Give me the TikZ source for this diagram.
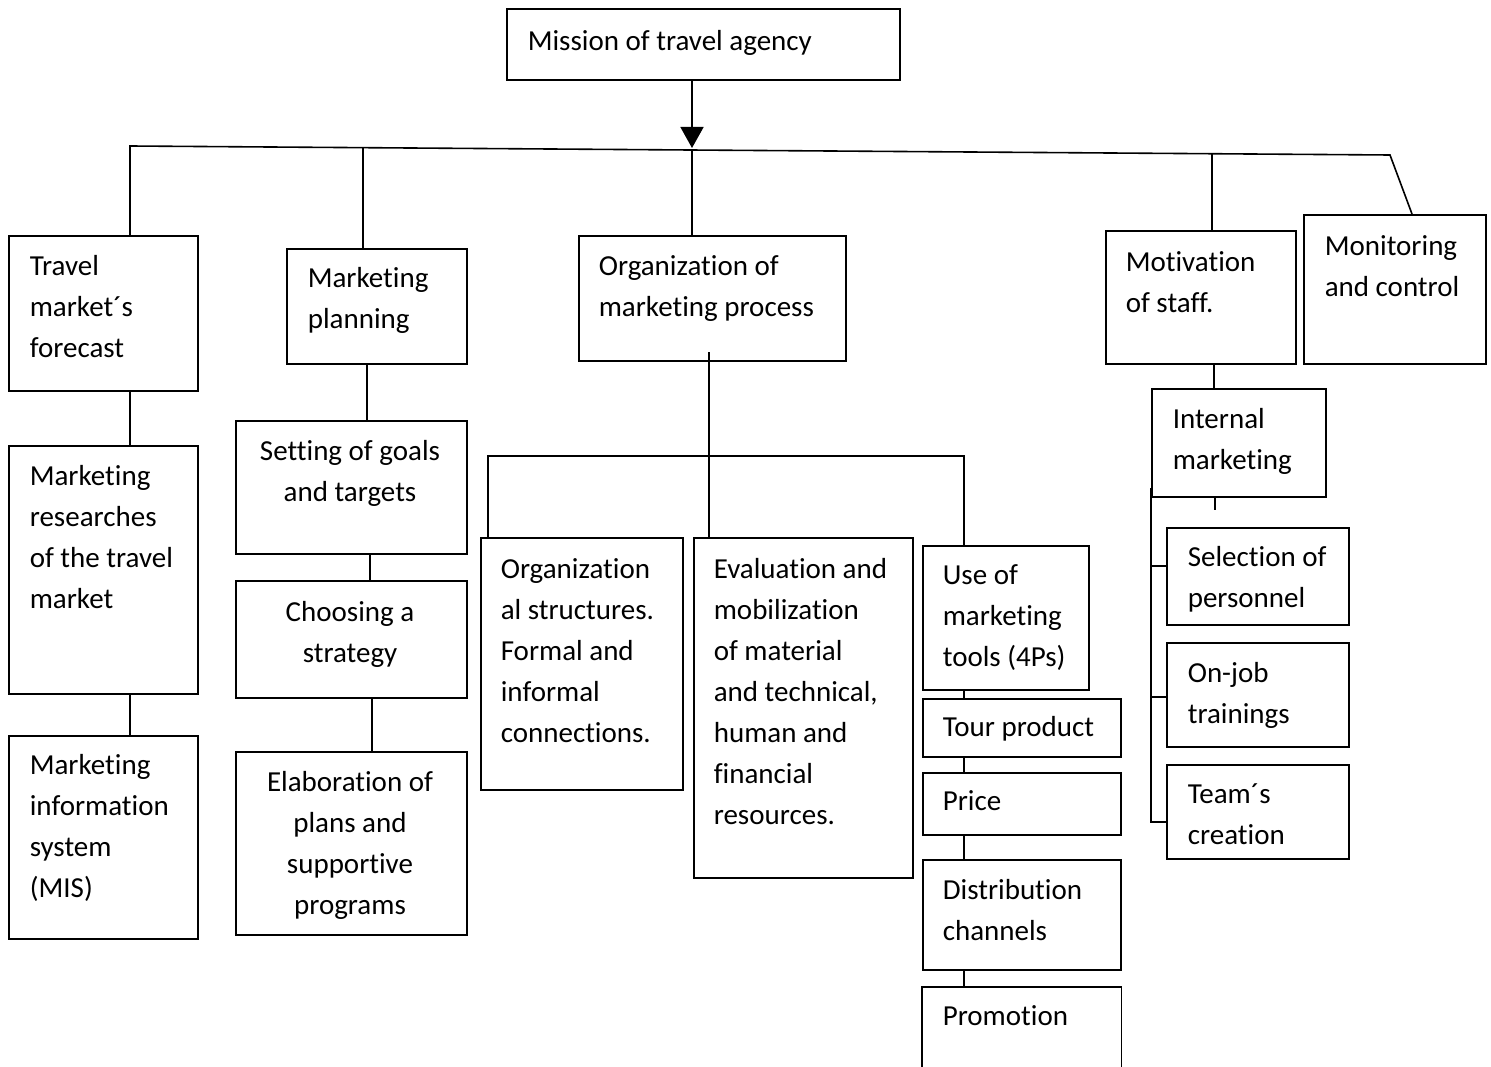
\documentclass[tikz,border=0pt]{standalone}
\usepackage{fontspec}
\setmainfont{Carlito}[Ligatures=NoCommon]
\usetikzlibrary{arrows.meta}
\begin{document}
\begin{tikzpicture}[x=1pt,y=-1pt, line width=1.6pt,
  box/.style={draw, anchor=north west, inner sep=0pt, line width=1.6pt},
  txt/.style={anchor=north west, align=left, inner sep=0pt, yshift=18.7pt, execute at begin node=\strut, font=\fontsize{29}{41}\selectfont},
  ctxt/.style={anchor=north, align=center, inner sep=0pt, yshift=18.7pt, execute at begin node=\strut, font=\fontsize{29}{41}\selectfont},
  one/.style={yshift=10pt},
  link/.style={draw, line width=1.6pt}]
\useasboundingbox[fill=white] (0,0) rectangle (1491,1067);

% boxes
\node[box, minimum width=393pt, minimum height=71pt] (mission) at (506,8) {};
\node[box, minimum width=189pt, minimum height=155pt] (travel) at (8,235) {};
\node[box, minimum width=189pt, minimum height=248pt] (research) at (8,445) {};
\node[box, minimum width=189pt, minimum height=203pt] (mis) at (8,735) {};
\node[box, minimum width=180pt, minimum height=115pt] (planning) at (286,248) {};
\node[box, minimum width=231pt, minimum height=133pt] (goals) at (235,420) {};
\node[box, minimum width=231pt, minimum height=117pt] (strategy) at (235,580) {};
\node[box, minimum width=231pt, minimum height=183pt] (elab) at (235,751) {};
\node[box, minimum width=267pt, minimum height=125pt] (org) at (578,235) {};
\node[box, minimum width=202pt, minimum height=252pt] (orgstruct) at (480,537) {};
\node[box, minimum width=219pt, minimum height=340pt] (eval) at (693,537) {};
\node[box, minimum width=166pt, minimum height=144pt] (tools) at (922,545) {};
\node[box, minimum width=198pt, minimum height=58pt] (tour) at (922,698) {};
\node[box, minimum width=198pt, minimum height=62pt] (price) at (922,772) {};
\node[box, minimum width=198pt, minimum height=110pt] (distr) at (922,859) {};
\node[box, draw=none, minimum width=198pt, minimum height=82pt] (promo) at (922,987) {};
\draw (promo.south west) -- (promo.north west) -- (promo.north east) -- (promo.south east);
\node[box, minimum width=190pt, minimum height=133pt] (motiv) at (1105,230) {};
\node[box, minimum width=182pt, minimum height=149pt] (monitor) at (1303,214) {};
\node[box, minimum width=174pt, minimum height=108pt] (internal) at (1151,388) {};
\node[box, minimum width=182pt, minimum height=97pt] (select) at (1166,527) {};
\node[box, minimum width=182pt, minimum height=104pt] (onjob) at (1166,642) {};
\node[box, minimum width=182pt, minimum height=94pt] (team) at (1166,764) {};

% texts (coordinates give the first baseline)
\node[txt, one] (t-mission) at (527,50) {Mission of travel agency};
\node[txt] (t-travel) at (29,273) {Travel\\market´s\\forecast};
\node[txt] (t-research) at (29,483) {Marketing\\researches\\of the travel\\market};
\node[txt] (t-mis) at (29,772) {Marketing\\information\\system\\(MIS)};
\node[txt] (t-planning) at (307,285) {Marketing\\planning};
\node[ctxt] (t-goals) at (350,458) {Setting of goals\\and targets};
\node[ctxt] (t-strategy) at (350,619) {Choosing a\\strategy};
\node[ctxt] (t-elab) at (350,789) {Elaboration of\\plans and\\supportive\\programs};
\node[txt] (t-org) at (598,273) {Organization of\\marketing process};
\node[txt] (t-orgstruct) at (500,576) {Organization\\al structures.\\Formal and\\informal\\connections.};
\node[txt] (t-eval) at (713,576) {Evaluation and\\mobilization\\of material\\and technical,\\human and\\financial\\resources.};
\node[txt] (t-tools) at (942,583) {Use of\\marketing\\tools (4Ps)};
\node[txt, one] (t-tour) at (942,736) {Tour product};
\node[txt, one] (t-price) at (942,810) {Price};
\node[txt] (t-distr) at (942,897) {Distribution\\channels};
\node[txt, one] (t-promo) at (942,1025) {Promotion};
\node[txt] (t-motiv) at (1125,269) {Motivation\\of staff.};
\node[txt] (t-monitor) at (1324,253) {Monitoring\\and control};
\node[txt] (t-internal) at (1172,426) {Internal\\marketing};
\node[txt] (t-select) at (1187,564) {Selection of\\personnel};
\node[txt] (t-onjob) at (1187,680) {On-job\\trainings};
\node[txt] (t-team) at (1187,802) {Team´s\\creation};

% bus coordinates
\coordinate (bL) at (130,146);
\coordinate (c1) at (363,148);
\coordinate (c3) at (692,150);
\coordinate (c4) at (1212,154);
\coordinate (bR) at (1390,155);
\coordinate (mc) at (1412,214);

% main bus
\draw[link] (bL |- travel.north) -- (bL) -- (bR) -- (mc);
\draw[link, -{Triangle[length=21pt,width=23pt]}] (mission.south -| c3) -- ([yshift=2pt]c3);
\draw[link] (c1) -- (planning.north -| c1);
\draw[link] (c3) -- (org.north -| c3);
\draw[link] (c4) -- (motiv.north -| c4);

% left column
\draw[link] (travel.south -| bL) -- (research.north -| bL);
\draw[link] (research.south -| bL) -- (mis.north -| bL);

% planning column
\coordinate (p1) at (367,0);
\coordinate (p2) at (370,0);
\coordinate (p3) at (372,0);
\draw[link] (planning.south -| p1) -- (goals.north -| p1);
\draw[link] (goals.south -| p2) -- (strategy.north -| p2);
\draw[link] (strategy.south -| p3) -- (elab.north -| p3);

% organization
\coordinate (o1) at (709,352);
\coordinate (oL) at (488,456);
\coordinate (oR) at (964,456);
\draw[link] (o1) -- (eval.north -| o1);
\draw[link] (orgstruct.north -| oL) -- (oL) -- (oR) -- (tools.north -| oR);
\draw[link] (tools.south -| oR) -- (tour.north -| oR);
\draw[link] (tour.south -| oR) -- (price.north -| oR);
\draw[link] (price.south -| oR) -- (distr.north -| oR);
\draw[link] (distr.south -| oR) -- (promo.north -| oR);

% motivation
\coordinate (m1) at (1214,0);
\coordinate (m2) at (1215,510);
\draw[link] (motiv.south -| m1) -- (internal.north -| m1);
\draw[link] (internal.south -| m2) -- (m2);
\coordinate (iL) at (1151,488);
\coordinate (iS) at (1151,566);
\coordinate (iO) at (1151,697);
\coordinate (iB) at (1151,822);
\draw[link] (iL) -- (iB) -- (team.west |- iB);
\draw[link] (iS) -- (select.west |- iS);
\draw[link] (iO) -- (onjob.west |- iO);
\end{tikzpicture}
\end{document}
